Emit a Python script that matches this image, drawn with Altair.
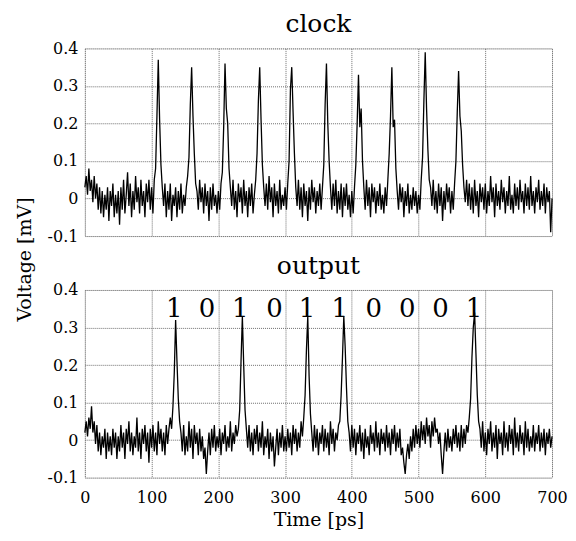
import altair as alt
import pandas as pd

# Sample times (ps), one sample every 2 ps
times = list(range(0, 701, 2))

# clock trace (mV)
clock_v = [
    .03, .06, .01, .08, .02, .05, -.01, .06, .00, .04, -.03, .03, -.04, .02, -.05, .01, -.03, .03, -.06, .02, -.02, .04, -.05, .01, -.04,
    .02, -.07, .03, -.03, .05, -.04, .01, .07, -.02, .04, -.05, .02, -.03, .06, -.01, .03, -.04, .05, -.02, .02, -.05, .04, -.01, .05, -.03,
    .03, -.04, .05, .08, .22, .37, .21, .09, .03, -.02, .04, -.05, .02, -.03, .04, -.06, .01, -.02, .03, -.05, .02, -.03, .04, -.04, .01,
    -.02, .03, .06, .11, .25, .35, .22, .12, .04, .02, -.03, .05, -.01, .03, -.04, .04, -.02, .02, -.06, .03, -.03, .04, -.02, .01, -.04,
    .02, -.03, .04, .07, .19, .36, .24, .20, .08, .03, -.02, .05, -.03, .02, -.05, .04, -.01, .03, -.04, .05, -.02, .02, -.05, .03, -.02,
    .04, -.04, .01, .05, .12, .26, .35, .21, .09, .03, -.02, .04, -.03, .06, -.01, .03, -.05, .04, -.02, .02, -.04, .05, -.03, .01, -.02,
    .03, -.03, .04, .10, .29, .35, .23, .12, .03, -.02, .05, -.03, .03, -.05, .04, -.02, .02, -.06, .03, -.03, .05, -.01, .03, -.04, .02,
    -.02, .04, -.03, .03, .09, .25, .36, .20, .10, .03, -.03, .04, -.02, .05, -.04, .02, -.03, .04, -.05, .03, -.02, .04, -.03, .01, -.05,
    .02, -.04, .03, .09, .20, .33, .19, .24, .10, .03, -.03, .05, -.02, .03, -.05, .04, -.01, .03, -.04, .02, -.02, .04, -.03, .01, -.04,
    .03, -.02, .05, .12, .22, .35, .19, .21, .08, .02, -.03, .04, -.01, .03, -.05, .02, -.02, .04, -.04, .01, -.03, .03, -.02, .02, -.04,
    .01, -.03, .05, .11, .26, .39, .24, .13, .05, .03, -.02, .05, -.03, .02, -.04, .04, -.02, .03, -.06, .02, -.03, .04, -.01, .03, -.04,
    .02, -.03, .04, .10, .23, .34, .22, .18, .09, .03, -.01, .05, -.02, .04, -.03, .03, -.04, .05, -.02, .02, -.05, .04, -.01, .03, -.03,
    .04, -.04, .02, -.02, .06, -.01, .03, -.05, .04, -.02, .02, -.03, .05, -.01, .03, -.04, .02, -.02, .06, -.03, .01, -.04, .04, -.02, .03,
    -.03, .05, -.01, .02, -.04, .04, -.02, .03, -.03, .06, -.02, .02, -.04, .03, -.01, .05, -.03, .02, -.02, .04, -.04, .03, -.01, .02, -.09,
    .00,
]

# output trace (mV)
output_v = [
    .02, .05, .01, .06, .03, .09, .02, .05, -.01, .04, -.03, .02, -.04, .01, -.02, .03, -.05, .02, -.03, .01, -.04, .03, -.02, .02, -.05,
    .01, -.03, .04, -.02, .02, -.05, .03, -.01, .05, -.03, .02, -.04, .01, -.02, .06, -.03, .02, -.05, .03, -.01, .04, -.03, .02, -.06, .03,
    -.02, .04, -.03, .02, -.04, .05, -.01, .03, -.03, .02, -.04, .04, -.01, .03, .06, .03, .09, .18, .32, .21, .11, .05, .02, -.03, .04,
    -.04, .01, -.03, .05, -.02, .03, -.05, .04, -.01, .02, -.04, .03, -.03, .01, -.05, -.02, -.09, -.03, .02, -.04, .03, -.02, .04, -.03, .01,
    -.02, .03, -.04, .02, -.01, .04, -.03, .01, -.02, .05, -.03, .02, -.01, .04, .01, .03, .08, .21, .33, .20, .08, .03, -.02, .04, -.03,
    .02, -.04, .03, -.01, .04, -.03, .02, -.02, .05, -.04, .01, -.02, .03, -.05, .02, -.03, .01, -.07, -.02, .03, -.04, .02, -.02, .04, -.03,
    .01, -.03, .03, -.02, .02, -.04, .04, -.01, .03, -.03, .02, -.02, .05, .01, .06, .12, .24, .33, .17, .07, .02, -.03, .04, -.02, .03,
    -.04, .02, -.01, .04, -.03, .03, -.02, .02, -.04, .05, -.01, .03, -.03, .02, .00, .04, .05, .12, .22, .33, .25, .14, .05, .02, -.03,
    .04, -.02, .03, -.04, .02, -.01, .04, -.03, .02, -.05, .03, -.02, .01, -.04, .04, -.01, .02, -.03, .05, -.02, .02, -.04, .03, -.01, .02,
    -.03, .04, -.02, .02, -.04, .03, -.01, .04, -.03, .02, -.02, .03, -.04, -.02, -.06, -.09, -.04, -.01, -.05, .01, -.03, .03, -.02, .04, -.01,
    .03, -.02, .05, .00, .04, -.01, .06, .01, .04, -.02, .05, .01, .06, .02, .03, -.01, .02, -.04, -.09, -.03, .02, -.03, .03, -.02, .01,
    -.03, .03, -.01, .04, -.02, .02, -.03, .04, -.02, .03, -.01, .04, .02, .06, .11, .22, .30, .34, .23, .12, .05, .03, -.02, .05, -.03,
    .02, -.04, .03, -.01, .05, -.03, .02, -.02, .04, -.05, .03, -.01, .02, -.04, .05, -.02, .02, -.03, .04, -.01, .03, -.04, .06, -.02, .02,
    -.03, .04, -.01, .02, -.04, .05, -.02, .03, -.03, .01, -.02, .04, -.03, .02, -.01, .04, -.03, .02, -.02, .03, -.04, .02, -.01, .03, -.02,
    .01,
]

# Bit labels above the output pulses
bits = ["1", "0", "1", "0", "1", "1", "0", "0", "0", "1"]
bit_t = [134, 183, 233, 284, 333, 382, 433, 483, 533, 583]
bit_v = [0.35] * len(bits)

x_ticks = [0, 100, 200, 300, 400, 500, 600, 700]
y_ticks = [-0.1, 0, 0.1, 0.2, 0.3, 0.4]

FONT = "DejaVu Serif"
W, H = 468, 188

clock_df = pd.DataFrame({"t": times[:len(clock_v)], "v": clock_v})
out_df = pd.DataFrame({"t": times[:len(output_v)], "v": output_v})
bits_df = pd.DataFrame({"t": bit_t, "v": bit_v, "b": bits})

xscale = alt.Scale(domain=[0, 700], nice=False)
yscale = alt.Scale(domain=[-0.1, 0.4], nice=False)

GRID = "#6e6e6e"
grid_kw = dict(grid=True, gridColor=GRID, gridDash=[1, 1], gridWidth=1,
               ticks=False, tickSize=0, domain=False, labelOverlap=False,
               labelFont=FONT, labelFontSize=16, labelColor="black")


def y_axis(with_title):
    kw = dict(values=y_ticks, labelExpr="'' + datum.value", labelPadding=7, **grid_kw)
    if with_title:
        kw.update(title="Voltage [mV]", titleFont=FONT, titleFontSize=19, titleFontWeight="normal",
                  titleColor="black", titleAngle=270, titleX=-50, titleY=211,
                  titleAlign="center", titleBaseline="bottom")
    else:
        kw.update(title=None)
    return alt.Axis(**kw)


bottom_x_axis = alt.Axis(values=x_ticks, title="Time [ps]", titleFont=FONT, titleFontSize=19,
                         titleFontWeight="normal", titleColor="black", titlePadding=5,
                         labelPadding=12, labelFlush=False, **grid_kw)


def title(text):
    return alt.TitleParams(text, font=FONT, fontSize=25, fontWeight="normal", color="black",
                           anchor="middle", offset=3)


top = alt.Chart(clock_df, title=title("clock")).mark_line(color="black", strokeWidth=1.3).encode(
    x=alt.X("t:Q", scale=xscale, axis=alt.Axis(values=x_ticks, labels=False, title=None, **grid_kw)),
    y=alt.Y("v:Q", scale=yscale, axis=y_axis(True)),
).properties(width=W, height=H)

bottom_line = alt.Chart(out_df).mark_line(color="black", strokeWidth=1.3).encode(
    x=alt.X("t:Q", scale=xscale, axis=bottom_x_axis),
    y=alt.Y("v:Q", scale=yscale, axis=y_axis(False)),
)

bottom_text = alt.Chart(bits_df).mark_text(font=FONT, fontSize=26, color="black",
                                           align="center", baseline="middle").encode(
    x=alt.X("t:Q", scale=xscale, axis=bottom_x_axis),
    y=alt.Y("v:Q", scale=yscale, axis=y_axis(False)),
    text="b:N",
)

bottom = alt.layer(bottom_line, bottom_text, title=title("output")).properties(width=W, height=H)

chart = alt.vconcat(top, bottom, spacing=54, bounds="flush").properties(
    padding={"left": 7, "top": 3, "right": 0, "bottom": 0}
).configure_view(stroke=GRID, strokeDash=[1, 1], strokeWidth=1).configure(
    background="white"
)

chart.save("out.html", embed_options={"renderer": "svg", "actions": False})
